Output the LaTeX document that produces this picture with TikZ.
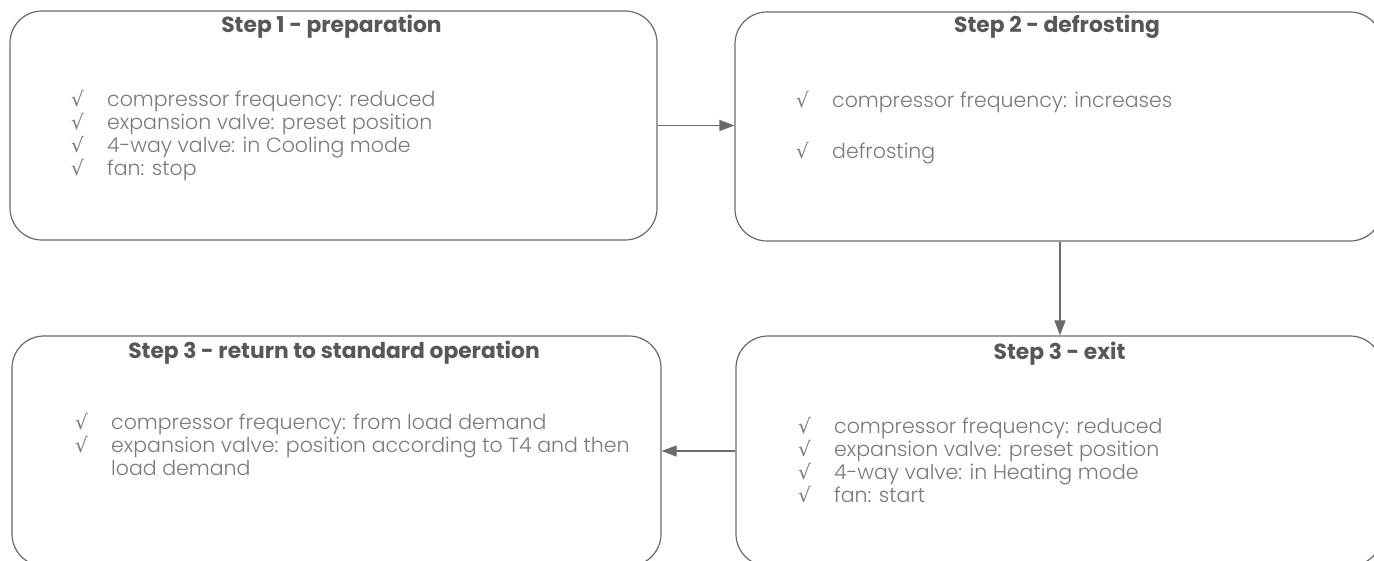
\documentclass[tikz,border=0pt]{standalone}
\usepackage{fontspec}
\IfFontExistsTF{Poppins Light}{\setmainfont{Poppins Light}}{\setmainfont{Poppins}}
\newfontfamily\titlefont{Poppins}[UprightFont=*-Bold]
\newfontfamily\symfont{DejaVu Sans}
\usetikzlibrary{arrows.meta}
\definecolor{linec}{HTML}{6A6A6A}
\definecolor{titlec}{HTML}{575757}
\definecolor{bodyc}{HTML}{7A7A7A}
\newcommand{\chk}{\makebox[34pt][l]{\hspace*{-2pt}{\symfont\fontsize{20}{22}\selectfont √}}}
\tikzset{
  stepbox/.style={draw=linec, line width=1.2pt, rounded corners=32pt, fill=white, inner sep=0pt},
  steptitle/.style={anchor=base, inner sep=0pt, text=titlec, font=\titlefont\fontsize{21.8}{25}\selectfont},
  stepbody/.style={anchor=base west, inner sep=0pt, text=bodyc, font=\fontsize{20.5}{23.3}\selectfont},
  conn/.style={draw=linec, line width=1.2pt, -{Triangle[length=15pt,width=11pt]}}
}
\begin{document}
\begin{tikzpicture}[x=1pt,y=-1pt]
\clip (0,0) rectangle (1374,560);
\fill[white] (0,0) rectangle (1374,560);
% boxes
\node[stepbox, minimum width=647pt, minimum height=229pt] (b1) at (333.5,125.5) {};
\node[stepbox, minimum width=647pt, minimum height=229pt] (b2) at (1058.5,126.5) {};
\node[stepbox, minimum width=649pt, minimum height=230pt] (b3) at (336.5,451) {};
\node[stepbox, minimum width=646pt, minimum height=230pt] (b4) at (1059,451) {};
% titles
\node[steptitle] (t1) at (331.5,32) {Step 1 - preparation};
\node[steptitle] (t2) at (1057,32) {Step 2 - defrosting};
\node[steptitle] (t3) at (334,358) {Step 3 - return to standard operation};
\node[steptitle] (t4) at (1059.5,359) {Step 3 - exit};
% bodies
\node[stepbody] (l1) at (73,106) {\begin{tabular}[t]{@{}l@{}l@{}}
\chk & compressor frequency: reduced\\
\chk & expansion valve: preset position\\
\chk & 4-way valve: in Cooling mode\\
\chk & fan: stop
\end{tabular}};
\node[stepbody] (l2) at (798,107) {\begin{tabular}[t]{@{}l@{}l@{}}
\chk & compressor frequency: increases\\[27.7pt]
\chk & defrosting
\end{tabular}};
\node[stepbody] (l3) at (77,429) {\begin{tabular}[t]{@{}l@{}l@{}}
\chk & compressor frequency: from load demand\\
\chk & expansion valve: position according to T4 and then\\
 & load demand
\end{tabular}};
\node[stepbody] (l4) at (800,433) {\begin{tabular}[t]{@{}l@{}l@{}}
\chk & compressor frequency: reduced\\
\chk & expansion valve: preset position\\
\chk & 4-way valve: in Heating mode\\
\chk & fan: start
\end{tabular}};
% connectors
\draw[conn] (b1.east) -- (b1.east -| b2.west);
\draw[conn] ([xshift=1.5pt]b2.south) -- ([xshift=1.5pt]b2.south |- b4.north);
\draw[conn] (b4.west) -- (b4.west -| b3.east);
\end{tikzpicture}
\end{document}
